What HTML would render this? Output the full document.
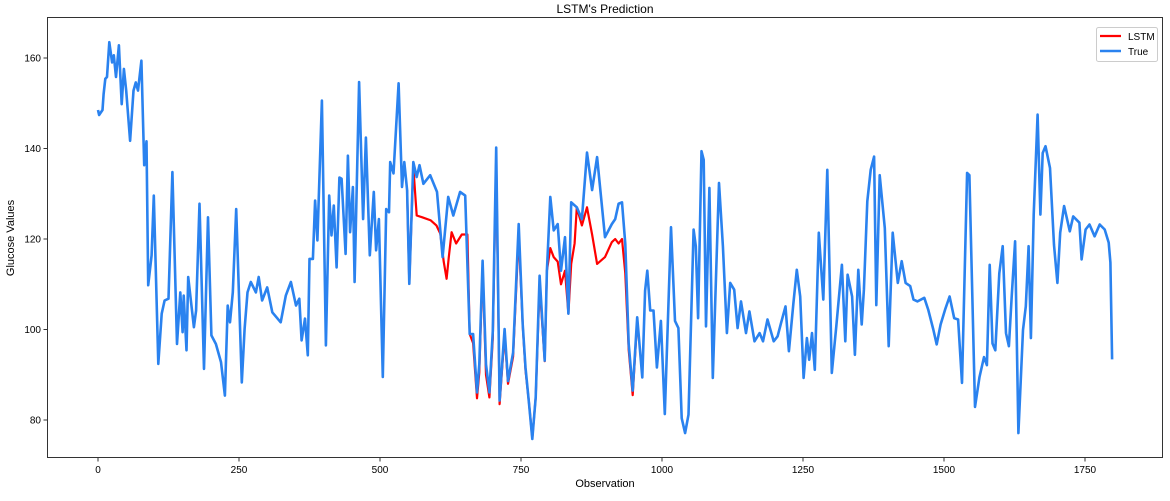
<!DOCTYPE html>
<html><head><meta charset="utf-8">
<style>
body{margin:0;background:#fff;}
svg text{font-family:"Liberation Sans","DejaVu Sans",sans-serif;fill:#000;}
</style></head>
<body>
<svg id="chart" width="1170" height="496" xmlns="http://www.w3.org/2000/svg">
<text x="605" y="13" font-size="12" text-anchor="middle">LSTM's Prediction</text>
<g id="plot"></g>
<text x="605" y="487" font-size="11" text-anchor="middle">Observation</text>
<text x="14" y="238" font-size="11" text-anchor="middle" transform="rotate(-90 14 238)">Glucose Values</text>
</svg>
<script>
const trueObs=[0,2,8,10,13,16,20,25,28,32,37,42,46,50,57,63,67,71,77,82,86,89,95,99,107,113,118,125,132,140,146,150,152,157,160,170,174,180,188,195,201,209,218,225,230,234,239,245,255,260,265,271,280,285,291,300,309,324,333,342,351,357,361,367,372,375,381,385,389,397,404,410,414,418,423,428,432,439,443,447,452,455,463,470,475,482,489,493,498,505,511,516,518,524,533,539,543,548,552,559,565,570,577,589,601,611,621,630,642,651,655,659,665,672,676,682,688,694,700,706,712,721,727,736,746,753,758,764,770,776,783,792,796,802,808,815,821,828,834,839,849,858,867,876,885,899,911,917,923,929,935,941,948,956,965,970,974,979,985,991,998,1005,1016,1023,1029,1035,1041,1047,1056,1060,1064,1070,1074,1078,1084,1090,1101,1108,1115,1121,1128,1134,1140,1149,1155,1164,1173,1179,1187,1198,1205,1211,1219,1225,1233,1239,1245,1251,1257,1261,1266,1271,1278,1286,1293,1301,1309,1319,1325,1329,1337,1342,1348,1354,1358,1364,1370,1376,1380,1386,1395,1402,1409,1418,1425,1432,1440,1446,1453,1465,1472,1481,1487,1494,1502,1510,1518,1525,1532,1541,1545,1555,1563,1571,1576,1581,1586,1591,1598,1604,1610,1615,1620,1626,1632,1640,1645,1650,1654,1659,1666,1671,1675,1680,1688,1695,1701,1706,1713,1723,1729,1740,1744,1751,1758,1767,1776,1785,1792,1795,1798];
const trueVals=[148.5,147.4,148.5,152,155.4,155.8,163.5,159,160.6,155.8,162.8,149.8,157.6,152.8,141.7,152.8,154.6,152.8,159.4,136.3,141.6,109.8,116.4,129.6,92.4,103.5,106.4,106.8,134.8,96.8,108.2,99.4,107.5,95.4,111.6,100.5,104.2,127.8,91.3,124.8,98.7,96.8,92.8,85.4,105.3,101.6,108.2,126.6,88.3,100.1,108.2,110.5,108.2,111.6,106.4,109.3,103.8,101.6,107.5,110.5,105.3,106.8,97.6,102.4,94.3,115.6,115.6,128.5,119.7,150.6,96.5,129.6,120.8,127.4,113.7,133.6,133.3,116.7,138.4,121.5,131.5,110.5,154.7,124.4,142.4,116.4,130.4,117.5,124.4,89.5,126.6,125.9,137,134.5,154.4,131.5,137,130.8,110.1,137,133.7,136.3,132.2,134.1,130.4,116,129.3,125.2,130.4,129.6,114.5,99,99,86.1,92.3,115.2,92.3,86.1,99.7,140.2,84.3,100.1,88.6,94.9,123.3,101.2,91.6,83.9,75.8,85,111.9,93.1,113,129.3,121.9,123.3,113,120.4,103.5,128.1,127,124.4,139.1,130.8,138.1,120.4,123.3,124.4,127.8,128.1,118.9,96.8,86.5,102.7,89.4,108.6,113,104.2,104.2,91.6,101.9,81.3,122.6,101.9,100.3,80.4,77.1,81.2,122.1,118.4,102.5,139.4,137.5,100.7,131.3,89.3,132.4,118.4,99.2,110.3,108.8,100.3,106.2,99.2,104,97.4,99.2,97.4,102.2,97.4,98.5,101.4,105.1,95.2,105.8,113.2,107.3,89.3,98.1,93.3,99.2,91.1,121.4,106.6,135.3,90.4,100.7,114.3,97.4,112.1,107.3,94.4,113.2,101.1,108.8,128.3,135.3,138.2,105.4,134.1,122.4,96.3,121.4,110.3,115.1,110.3,109.6,106.6,106.2,107,104.4,100,96.7,101.1,104.4,107.3,102.5,102.2,88.2,134.6,134.1,82.9,89.5,93.9,92.1,114.3,96.9,95.4,112.4,118.4,99.2,96.3,107.3,119.5,77.1,99.9,105.1,118.4,98.1,125.4,147.5,125.4,139,140.5,135.7,118.7,110.3,121.4,127.3,121.7,125,123.6,115.5,122.1,123.2,120.6,123.2,122.1,119.2,114.8,93.4];
const lstmObs=[548,552,559,565,575,590,600,607,613,618,622,627,635,645,655,659,665,672,676,682,688,694,700,706,712,721,727,736,746,753,758,764,770,776,783,792,796,802,808,815,821,828,834,839,845,849,858,867,876,885,899,911,917,923,929,935,941,948,956];
const lstmVals=[130.8,110.1,136,125.2,124.8,124.1,123,121.2,115,111.2,116,121.5,119,121,121,99,97,84.8,90.5,114,90,85,98,138,83.5,99,88,94,121,101,91,84,76,85,110,93,113,118,116,115,110,113,103.5,114.5,119,127,123,127,121,114.5,116,119.3,120,119,120,112.4,95.5,85.5,102];
const xTicks=[0,250,500,750,1000,1250,1500,1750];
const yTicks=[80,100,120,140,160];

const L=47,R=1163,T=17,B=458;
function xs(o){return 98+o*0.564;}
function ys(v){return 58+(160-v)*4.525;}
const NS='http://www.w3.org/2000/svg';
const plot=document.getElementById('plot');
function mk(tag,attrs){const e=document.createElementNS(NS,tag);for(const k in attrs)e.setAttribute(k,attrs[k]);return e;}
function pathFrom(ox,vals){return ox.map((o,i)=>(i?'L':'M')+xs(o).toFixed(1)+' '+ys(vals[i]).toFixed(1)).join(' ');}

const clip=mk('clipPath',{id:'pc'});clip.appendChild(mk('rect',{x:L,y:T,width:R-L,height:B-T}));plot.appendChild(clip);

const red=mk('path',{d:pathFrom(lstmObs,lstmVals),fill:'none',stroke:'#ff0000','stroke-width':2.2,'stroke-linejoin':'round','clip-path':'url(#pc)'});


plot.appendChild(red);
const blue=mk('path',{d:pathFrom(trueObs,trueVals),fill:'none',stroke:'#2a82ef','stroke-width':2.6,'stroke-linejoin':'round','clip-path':'url(#pc)'});


plot.appendChild(blue);

const frame=mk('rect',{x:L+0.5,y:T+0.5,width:R-L-1,height:B-T-1,fill:'none',stroke:'#000','stroke-width':0.8});


plot.appendChild(frame);

xTicks.forEach(t=>{
  const x=xs(t);
  const g=mk('g',{});
  
  
  g.appendChild(mk('line',{x1:x,x2:x,y1:B,y2:B+3.5,stroke:'#000','stroke-width':0.8}));
  const tx=mk('text',{x:x,y:B+15,'font-size':10,'text-anchor':'middle'});tx.textContent=t;g.appendChild(tx);
  plot.appendChild(g);
});
yTicks.forEach(t=>{
  const y=ys(t);
  const g=mk('g',{});
  
  
  g.appendChild(mk('line',{x1:L-3.5,x2:L,y1:y,y2:y,stroke:'#000','stroke-width':0.8}));
  const tx=mk('text',{x:L-6,y:y+3.5,'font-size':10,'text-anchor':'end'});tx.textContent=t;g.appendChild(tx);
  plot.appendChild(g);
});

const lg=mk('g',{});


lg.appendChild(mk('rect',{x:1096.5,y:27.5,width:61,height:34,rx:2,fill:'#fff',stroke:'#ccc','stroke-width':1}));
lg.appendChild(mk('line',{x1:1100,x2:1121,y1:36,y2:36,stroke:'#ff0000','stroke-width':2.2}));
lg.appendChild(mk('line',{x1:1100,x2:1121,y1:51,y2:51,stroke:'#2a82ef','stroke-width':2.6}));
const t1=mk('text',{x:1128,y:40,'font-size':10});t1.textContent='LSTM';lg.appendChild(t1);
const t2=mk('text',{x:1128,y:55,'font-size':10});t2.textContent='True';lg.appendChild(t2);
plot.appendChild(lg);
</script>
</body></html>
